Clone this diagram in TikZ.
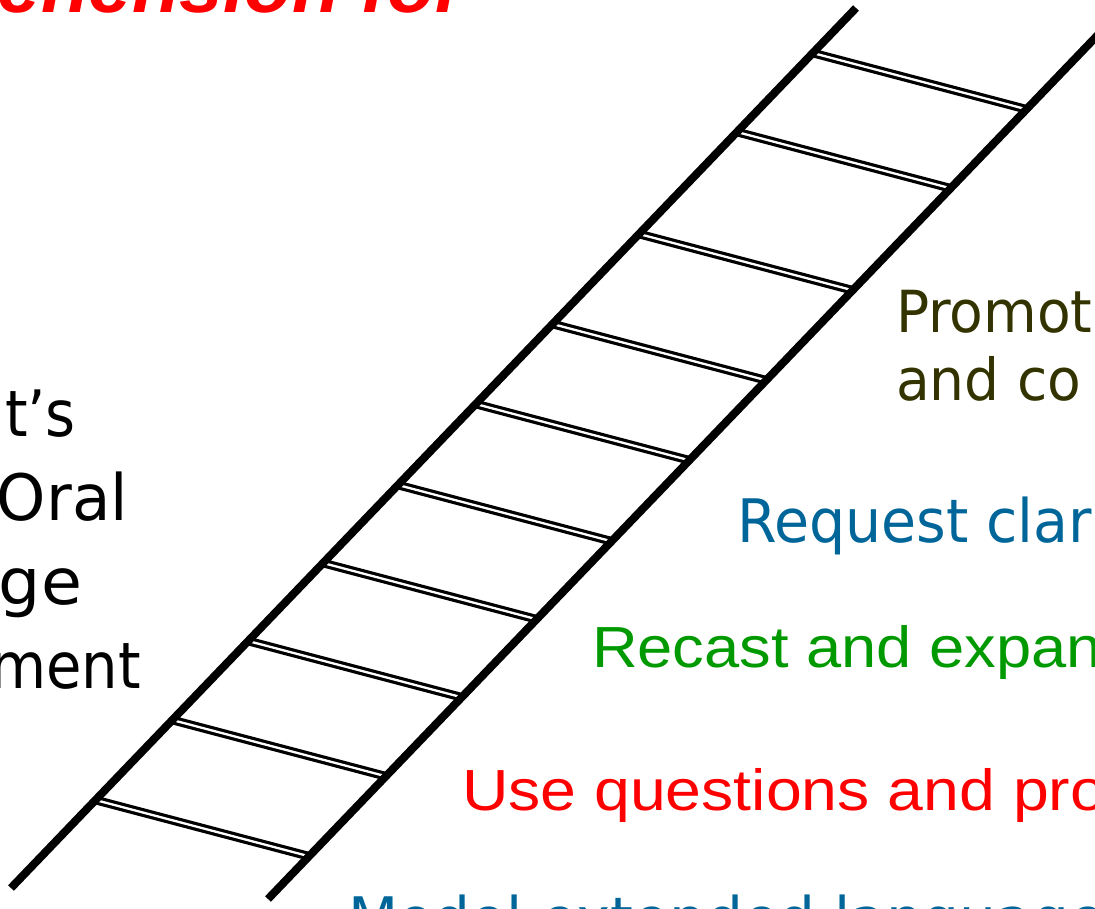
\documentclass[tikz,border=0pt]{standalone}
\usepackage{fontspec}
\usetikzlibrary{calc,intersections}
\setmainfont{Liberation Sans}
\newfontfamily\tah[FakeStretch=0.9]{DejaVu Sans}
\newfontfamily\tahb[FakeStretch=0.98]{DejaVu Sans}
\newfontfamily\tahc[FakeStretch=1.04]{DejaVu Sans}
\newfontfamily\tahw[FakeStretch=0.95]{DejaVu Sans}
\newfontfamily\tahm[FakeStretch=0.97]{DejaVu Sans}
\newfontfamily\ari{Liberation Sans}
\newfontfamily\ariw[FakeStretch=1.09]{Liberation Sans}
\newfontfamily\ariu[FakeStretch=1.11]{Liberation Sans}
\definecolor{olive}{RGB}{51,51,0}
\definecolor{tblue}{RGB}{0,102,153}
\definecolor{tgreen}{RGB}{0,153,0}
\definecolor{tred}{RGB}{255,0,0}
\tikzset{
  rail/.style={line width=8pt, black},
  rung/.style={double=white, double distance=2.3pt, line width=3.2pt, black},
  lbl/.style={anchor=base west, inner sep=0pt, outer sep=0pt},
  lft/.style={anchor=base east, inner sep=0pt, outer sep=0pt, font=\tah\fontsize{64}{76}\selectfont},
}
\begin{document}
\begin{tikzpicture}[x=1pt,y=-1pt]
\useasboundingbox (0,0) rectangle (1095,908);
\clip (0,0) rectangle (1095,908);
% rails
\coordinate (lb) at (11,888);
\coordinate (lt) at (856,8);
\coordinate (rb) at (268,899);
\coordinate (rt) at (1141,-10);
\path[name path=rr] (rb) -- (rt);
% rungs
\foreach \y [count=\i] in {53,132,234,324,404,485,563,641,720,800}{
  \pgfmathsetmacro{\t}{(888-\y)/880}
  \coordinate (p\i) at ($(lb)!\t!(lt)$);
  \coordinate (q\i) at ($(p\i)+(410,108)$);
  \path[name path=rg] (p\i) -- (q\i);
  \draw[rung, name intersections={of=rg and rr}] (p\i) -- (intersection-1);
}
\draw[rail] (lb) -- (lt);
\draw[rail] (rb) -- (rt);
% title fragment
\node[anchor=base east, inner sep=0pt, text=tred, font=\ari\bfseries\itshape\fontsize{78}{92}\selectfont] (title) at (466,12) {ehension for};
% left text
\node[lft] (l1) at (76,436) {t’s};
\node[lft, font=\tahb\fontsize{64}{76}\selectfont] (l2) at (128,520) {Oral};
\node[lft, font=\tahc\fontsize{64}{76}\selectfont] (l3) at (82,604) {ge};
\node[lft] (l4) at (141,688) {ment};
% right texts
\node[lbl, text=olive, font=\tahw\fontsize{58}{70}\selectfont] (pr1) at (896,332) {Promot};
\node[lbl, text=olive, font=\tahw\fontsize{58}{70}\selectfont] (pr2) at (896,400) {and co};
\node[lbl, text=tblue, font=\tahw\fontsize{60}{72}\selectfont] (rq) at (737,542) {Request clar};
\node[lbl, text=tgreen, font=\ariw\fontsize{58}{70}\selectfont] (rc) at (592,667) {Recast and expan};
\node[lbl, text=tred, font=\ariu\fontsize{58}{70}\selectfont] (uq) at (462,810) {Use questions and pro};
\node[lbl, text=tblue, font=\tahm\fontsize{60}{72}\selectfont] (md) at (348,940) {Model extended language};
\end{tikzpicture}
\end{document}
